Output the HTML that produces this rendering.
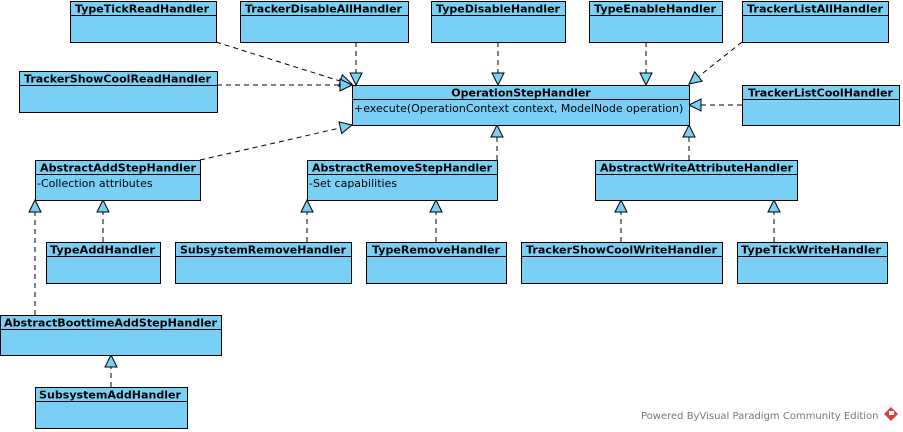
<!DOCTYPE html>
<html><head><meta charset="utf-8"><style>
html,body{margin:0;padding:0;background:#fff;}
svg{display:block;}
.b{fill:#7acff5;stroke:#000;stroke-width:1;}
.t{font-family:"DejaVu Sans",sans-serif;font-size:11px;font-weight:bold;fill:#000;}
.a{font-family:"DejaVu Sans",sans-serif;font-size:11px;fill:#000;}
.d{stroke:#000;stroke-dasharray:5,4;fill:none;}
.h{fill:#7acff5;stroke:#000;}
</style></head><body>
<svg width="903" height="432" viewBox="0 0 903 432" xmlns="http://www.w3.org/2000/svg">
<line class="d" x1="216" y1="42" x2="340" y2="81"/>
<polygon class="h" points="352,84 338.8,86.2 342.3,74.8"/>
<line class="d" x1="356" y1="42" x2="356" y2="73"/>
<polygon class="h" points="356,85 350,73 362,73"/>
<line class="d" x1="498" y1="42" x2="498" y2="73"/>
<polygon class="h" points="498,85 492,73 504,73"/>
<line class="d" x1="646" y1="42" x2="646" y2="73"/>
<polygon class="h" points="646,85 640,73 652,73"/>
<line class="d" x1="742" y1="42" x2="698" y2="77"/>
<polygon class="h" points="689,84 694.7,71.8 702.1,81.2"/>
<line class="d" x1="217" y1="85" x2="340" y2="85"/>
<polygon class="h" points="352,85 340,79 340,91"/>
<line class="d" x1="742" y1="105" x2="701" y2="105"/>
<polygon class="h" points="689,105 701,99 701,111"/>
<line class="d" x1="200" y1="160" x2="340" y2="128"/>
<polygon class="h" points="352,125 341.7,133.5 339,121.9"/>
<line class="d" x1="497" y1="160" x2="497" y2="137"/>
<polygon class="h" points="497,125 491,137 503,137"/>
<line class="d" x1="689" y1="160" x2="689" y2="137"/>
<polygon class="h" points="689,125 683,137 695,137"/>
<line class="d" x1="103" y1="242" x2="103" y2="212"/>
<polygon class="h" points="103,200 97,212 109,212"/>
<line class="d" x1="35" y1="315" x2="35" y2="212"/>
<polygon class="h" points="35,200 29,212 41,212"/>
<line class="d" x1="307" y1="242" x2="307" y2="212"/>
<polygon class="h" points="307,200 301,212 313,212"/>
<line class="d" x1="436" y1="242" x2="436" y2="212"/>
<polygon class="h" points="436,200 430,212 442,212"/>
<line class="d" x1="621" y1="242" x2="621" y2="212"/>
<polygon class="h" points="621,200 615,212 627,212"/>
<line class="d" x1="774" y1="242" x2="774" y2="212"/>
<polygon class="h" points="774,200 768,212 780,212"/>
<line class="d" x1="111" y1="387" x2="111" y2="367"/>
<polygon class="h" points="111,355 105,367 117,367"/>

<g>
<rect class="b" x="70.5" y="1.5" width="146" height="41"/><line stroke="#000" x1="70.5" y1="15.5" x2="216.5" y2="15.5"/><text class="t" x="75" y="12.5" textLength="134" lengthAdjust="spacingAndGlyphs">TypeTickReadHandler</text>
<rect class="b" x="240.5" y="1.5" width="168" height="41"/><line stroke="#000" x1="240.5" y1="15.5" x2="408.5" y2="15.5"/><text class="t" x="245" y="12.5" textLength="157" lengthAdjust="spacingAndGlyphs">TrackerDisableAllHandler</text>
<rect class="b" x="431.5" y="1.5" width="134" height="41"/><line stroke="#000" x1="431.5" y1="15.5" x2="565.5" y2="15.5"/><text class="t" x="436" y="12.5" textLength="124" lengthAdjust="spacingAndGlyphs">TypeDisableHandler</text>
<rect class="b" x="589.5" y="1.5" width="133" height="41"/><line stroke="#000" x1="589.5" y1="15.5" x2="722.5" y2="15.5"/><text class="t" x="594" y="12.5" textLength="122" lengthAdjust="spacingAndGlyphs">TypeEnableHandler</text>
<rect class="b" x="742.5" y="1.5" width="146" height="41"/><line stroke="#000" x1="742.5" y1="15.5" x2="888.5" y2="15.5"/><text class="t" x="747" y="12.5" textLength="136" lengthAdjust="spacingAndGlyphs">TrackerListAllHandler</text>

<rect class="b" x="19.5" y="71.5" width="198" height="41"/><line stroke="#000" x1="19.5" y1="85.5" x2="217.5" y2="85.5"/><text class="t" x="24" y="82.5" textLength="187" lengthAdjust="spacingAndGlyphs">TrackerShowCoolReadHandler</text>
<rect class="b" x="352.5" y="85.5" width="337" height="40"/><line stroke="#000" x1="352.5" y1="99.5" x2="689.5" y2="99.5"/><text class="t" x="521" y="96.5" text-anchor="middle">OperationStepHandler</text><text class="a" x="354" y="112">+execute(OperationContext context, ModelNode operation)</text>
<rect class="b" x="742.5" y="85.5" width="157" height="40"/><line stroke="#000" x1="742.5" y1="99.5" x2="899.5" y2="99.5"/><text class="t" x="748" y="96.5" textLength="145" lengthAdjust="spacingAndGlyphs">TrackerListCoolHandler</text>

<rect class="b" x="35.5" y="160.5" width="165" height="40"/><line stroke="#000" x1="35.5" y1="174.5" x2="200.5" y2="174.5"/><text class="t" x="40" y="171.5" textLength="156" lengthAdjust="spacingAndGlyphs">AbstractAddStepHandler</text><text class="a" x="37" y="187">-Collection attributes</text>
<rect class="b" x="307.5" y="160.5" width="190" height="40"/><line stroke="#000" x1="307.5" y1="174.5" x2="497.5" y2="174.5"/><text class="t" x="312" y="171.5" textLength="180" lengthAdjust="spacingAndGlyphs">AbstractRemoveStepHandler</text><text class="a" x="309" y="187">-Set capabilities</text>
<rect class="b" x="595.5" y="160.5" width="202" height="40"/><line stroke="#000" x1="595.5" y1="174.5" x2="797.5" y2="174.5"/><text class="t" x="600" y="171.5" textLength="193" lengthAdjust="spacingAndGlyphs">AbstractWriteAttributeHandler</text>

<rect class="b" x="46.5" y="242.5" width="114" height="41"/><line stroke="#000" x1="46.5" y1="256.5" x2="160.5" y2="256.5"/><text class="t" x="50" y="253.5" textLength="105" lengthAdjust="spacingAndGlyphs">TypeAddHandler</text>
<rect class="b" x="175.5" y="242.5" width="176" height="41"/><line stroke="#000" x1="175.5" y1="256.5" x2="351.5" y2="256.5"/><text class="t" x="180" y="253.5" textLength="166" lengthAdjust="spacingAndGlyphs">SubsystemRemoveHandler</text>
<rect class="b" x="366.5" y="242.5" width="140" height="41"/><line stroke="#000" x1="366.5" y1="256.5" x2="506.5" y2="256.5"/><text class="t" x="372" y="253.5" textLength="128" lengthAdjust="spacingAndGlyphs">TypeRemoveHandler</text>
<rect class="b" x="521.5" y="242.5" width="201" height="41"/><line stroke="#000" x1="521.5" y1="256.5" x2="722.5" y2="256.5"/><text class="t" x="526" y="253.5" textLength="191" lengthAdjust="spacingAndGlyphs">TrackerShowCoolWriteHandler</text>
<rect class="b" x="737.5" y="242.5" width="150" height="41"/><line stroke="#000" x1="737.5" y1="256.5" x2="887.5" y2="256.5"/><text class="t" x="741" y="253.5" textLength="140" lengthAdjust="spacingAndGlyphs">TypeTickWriteHandler</text>

<rect class="b" x="0.5" y="315.5" width="221" height="40"/><line stroke="#000" x1="0.5" y1="329.5" x2="221.5" y2="329.5"/><text class="t" x="4" y="326.5" textLength="213" lengthAdjust="spacingAndGlyphs">AbstractBoottimeAddStepHandler</text>
<rect class="b" x="35.5" y="387.5" width="152" height="41"/><line stroke="#000" x1="35.5" y1="401.5" x2="187.5" y2="401.5"/><text class="t" x="39" y="398.5" textLength="142" lengthAdjust="spacingAndGlyphs">SubsystemAddHandler</text>
</g>

<text x="641" y="419" style="font-family:'DejaVu Sans',sans-serif;font-size:10px;fill:#777;">Powered ByVisual Paradigm Community Edition</text>
<polygon points="891,407 898,414 891,421 884,414" fill="#d9413f"/>
<rect x="889" y="411" width="5" height="4" fill="#fff"/>
</svg>
</body></html>
